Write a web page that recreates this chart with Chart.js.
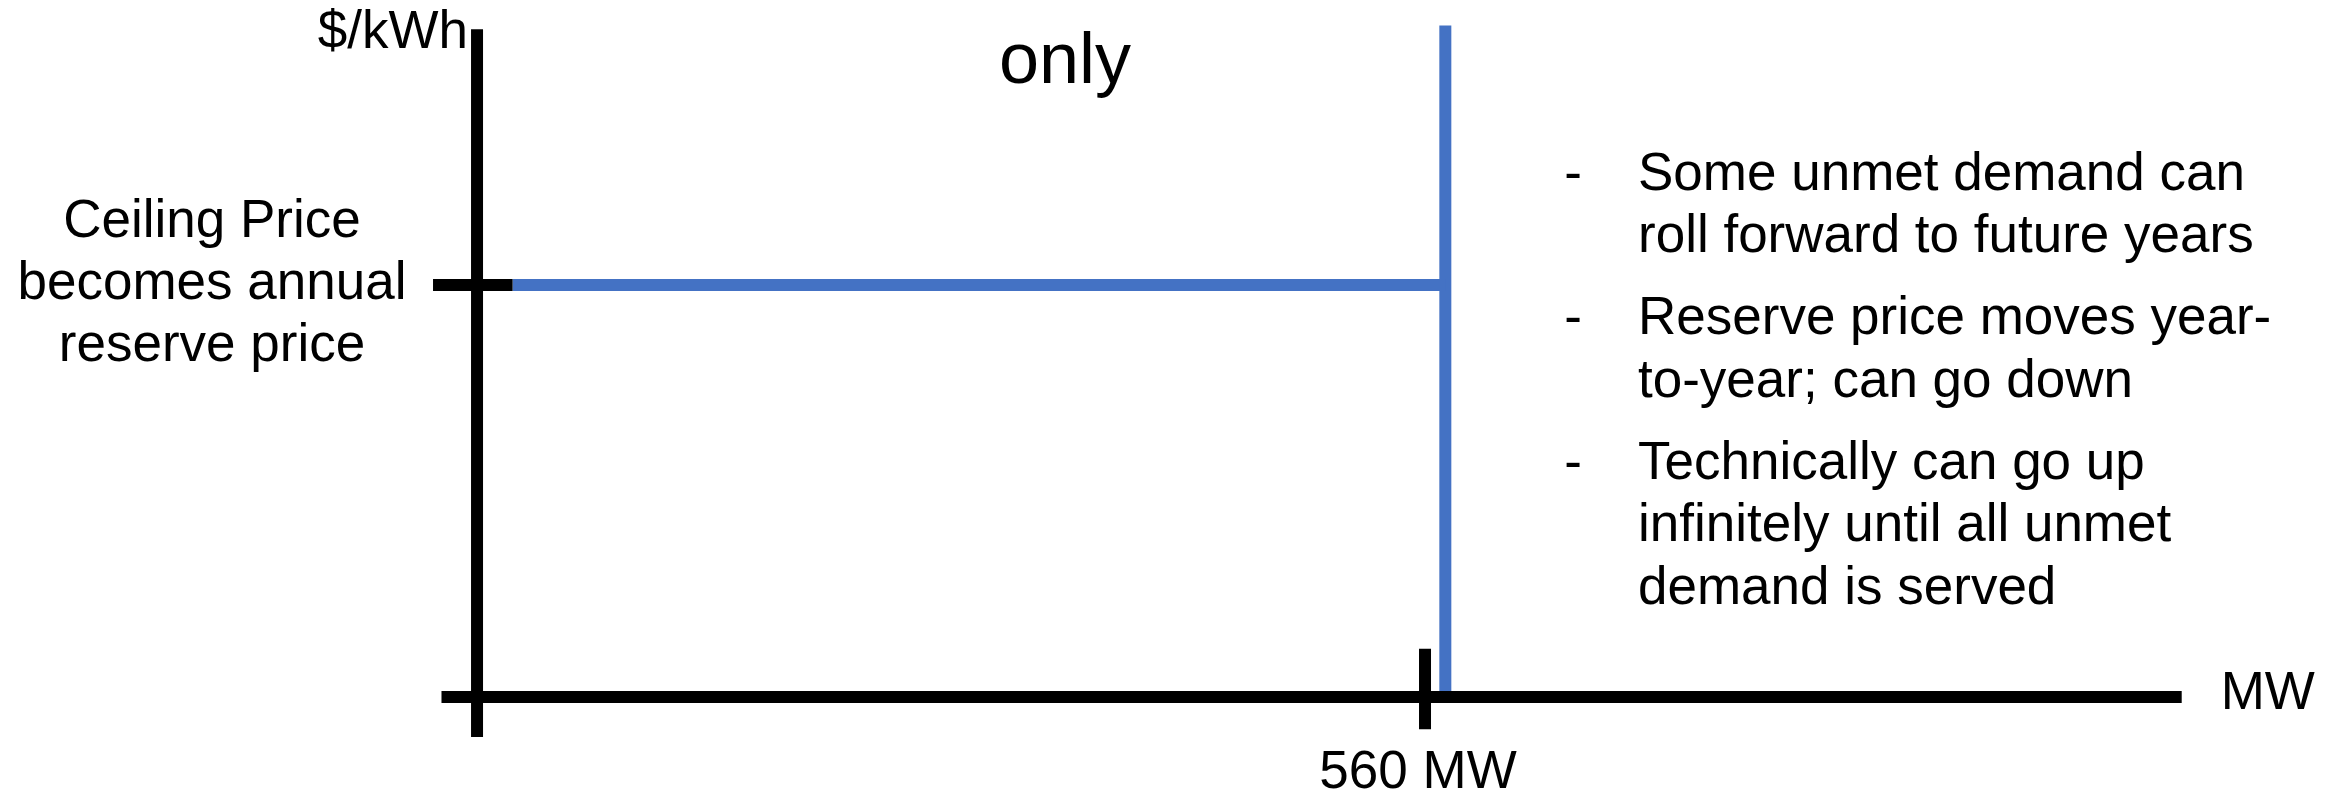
<!DOCTYPE html>
<html>
<head>
<meta charset="utf-8">
<script src="https://cdn.jsdelivr.net/npm/chart.js@4/dist/chart.umd.min.js"></script>
<style>
    body { margin: 0; background: #fff; }
    #wrap { width: 2341px; height: 793px; }
</style>
</head>
<body>
<div id="wrap"><canvas id="chart" width="2341" height="793"></canvas></div>
<script>
// values in chart units: x = MW, y = price (ceiling price = 1)
const capacityMW = 560
const ceilingPrice = 1

const xAxisX = [-21, 1007]
const xAxisY = [0, 0]
const yAxisX = [0, 0]
const yAxisY = [-0.097, 1.621]

const ceilingTickX = [-26, 21]
const ceilingTickY = [ceilingPrice, ceilingPrice]
const capTickX = [capacityMW, capacityMW]
const capTickY = [-0.078, 0.117]

const reserveX = [21, 572]
const reserveY = [ceilingPrice, ceilingPrice]
const supplyX = [572, 572]
const supplyY = [0, 1.63]

const yTitle = '$/kWh'
const xTitle = 'MW'
const capLabel = '560 MW'
const titleLine = 'only'
const leftLabel = ['Ceiling Price', 'becomes annual', 'reserve price']
const bullets = [
    ['Some unmet demand can', 'roll forward to future years'],
    ['Reserve price moves year-', 'to-year; can go down'],
    ['Technically can go up', 'infinitely until all unmet', 'demand is served']
]

const black = '#000000'
const blue = '#4472C4'
const font = '"Liberation Sans", Arial, sans-serif'

function points(xs, ys) {
    return xs.map((x, i) => ({ x: x, y: ys[i] }))
}

function lineSet(label, xs, ys, color) {
    return {
        label: label,
        data: points(xs, ys),
        showLine: true,
        borderColor: color,
        borderWidth: 12,
        borderCapStyle: 'butt',
        pointRadius: 0,
        fill: false
    }
}

const textPlugin = {
    id: 'texts',
    afterDraw(chart) {
        const ctx = chart.ctx
        const xs = chart.scales.x
        const ys = chart.scales.y
        ctx.save()
        ctx.fillStyle = black

        ctx.font = '72px ' + font
        ctx.textAlign = 'center'
        ctx.textBaseline = 'alphabetic'
        ctx.fillText(titleLine, 1065, 83)

        ctx.font = '53px ' + font
        ctx.textAlign = 'right'
        ctx.fillText(yTitle, xs.getPixelForValue(0) - 9, 48)

        ctx.textAlign = 'left'
        ctx.textBaseline = 'middle'
        ctx.fillText(xTitle, xs.getPixelForValue(xAxisX[1]) + 39, ys.getPixelForValue(0) - 3)

        ctx.textAlign = 'center'
        ctx.textBaseline = 'alphabetic'
        ctx.fillText(capLabel, xs.getPixelForValue(capacityMW) - 7, 788)

        ctx.textBaseline = 'middle'
        const midY = ys.getPixelForValue(ceilingPrice) - 1
        leftLabel.forEach((line, i) => {
            ctx.fillText(line, 212, midY + (i - 1) * 62)
        })

        let y = 175
        bullets.forEach(group => {
            ctx.textAlign = 'center'
            ctx.fillText('-', 1573, y)
            ctx.textAlign = 'left'
            group.forEach(line => {
                ctx.fillText(line, 1638, y)
                y += 62.5
            })
            y += 19.5
        })
        ctx.restore()
    }
}

new Chart(document.getElementById('chart'), {
    type: 'scatter',
    data: {
        datasets: [
            lineSet('x axis', xAxisX, xAxisY, black),
            lineSet('y axis', yAxisX, yAxisY, black),
            lineSet('ceiling tick', ceilingTickX, ceilingTickY, black),
            lineSet('560 MW tick', capTickX, capTickY, black),
            lineSet('reserve price', reserveX, reserveY, blue),
            lineSet('supply', supplyX, supplyY, blue)
        ]
    },
    options: {
        responsive: false,
        animation: false,
        layout: { padding: 0 },
        plugins: {
            legend: { display: false },
            tooltip: { enabled: false },
            title: { display: false }
        },
        scales: {
            x: { type: 'linear', min: -281.8, max: 1101.1, display: false },
            y: { type: 'linear', min: -0.233, max: 1.6917, display: false }
        }
    },
    plugins: [textPlugin]
})
</script>
</body>
</html>
